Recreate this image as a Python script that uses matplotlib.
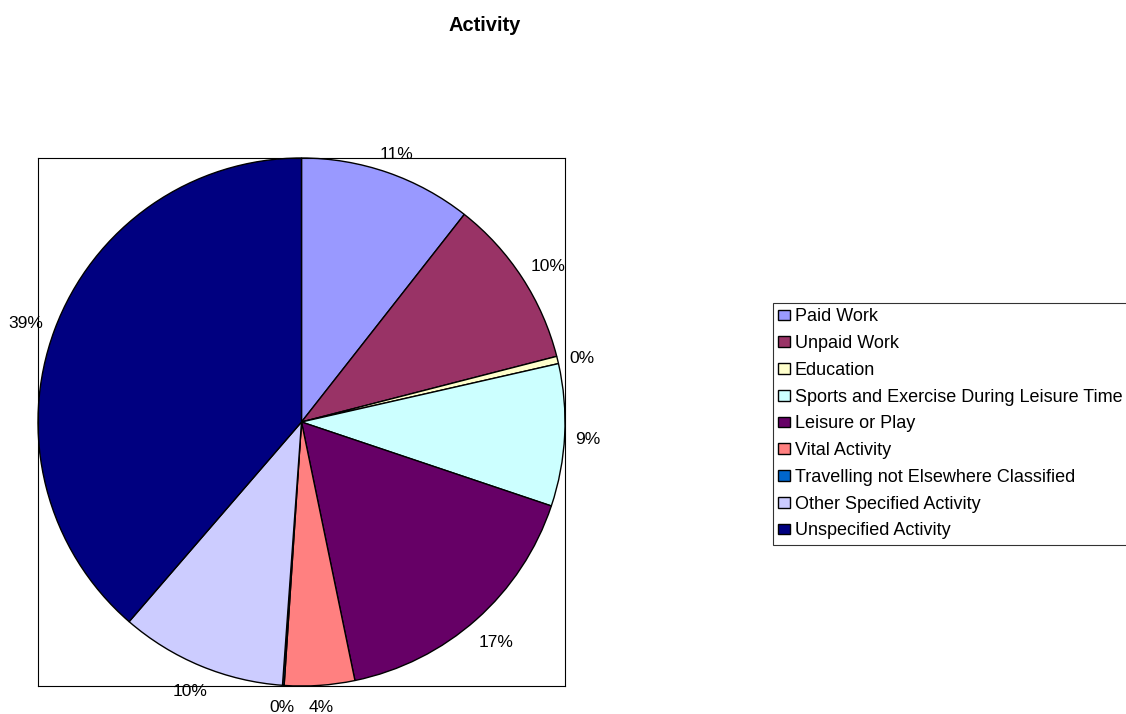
import matplotlib
matplotlib.use("Agg")
import matplotlib.pyplot as plt
import numpy as np

plt.rcParams['font.family'] = ['Liberation Sans', 'DejaVu Sans']

categories = ["Paid Work", "Unpaid Work", "Education",
              "Sports and Exercise During Leisure Time", "Leisure or Play",
              "Vital Activity", "Travelling not Elsewhere Classified",
              "Other Specified Activity", "Unspecified Activity"]
shares = [10.6, 10.4, 0.45, 8.7, 16.6, 4.3, 0.1, 10.2, 38.65]
colors = ["#9999FF", "#993366", "#FFFFCC", "#CCFFFF", "#660066",
          "#FF8080", "#0066CC", "#CCCCFF", "#000080"]

fig = plt.figure(figsize=(11.26, 7.14), dpi=100)
ax = fig.add_axes([38 / 1126, 28 / 714, 527 / 1126, 528 / 714])

wedges, texts, pcts = ax.pie(
    shares, colors=colors, startangle=90, counterclock=False,
    autopct='%.0f%%', pctdistance=1.1, frame=True,
    wedgeprops=dict(edgecolor='black', linewidth=1),
    textprops=dict(fontsize=12.5, color='black'))

ax.set_xlim(-1, 1)
ax.set_ylim(-1, 1)
ax.set_aspect('auto')
ax.set_xticks([])
ax.set_yticks([])
for s in ax.spines.values():
    s.set_linewidth(0.8)
    s.set_color('black')

# push each percentage out so its box sits just outside the rim
fig.canvas.draw()
renderer = fig.canvas.get_renderer()
r_px = ax.transData.transform((1, 0))[0] - ax.transData.transform((0, 0))[0]
for w, t in zip(wedges, pcts):
    ang = np.deg2rad((w.theta1 + w.theta2) / 2)
    c, s = np.cos(ang), np.sin(ang)
    bb = t.get_window_extent(renderer)
    half = (bb.width / 2 * abs(c) + bb.height * 0.75 * abs(s)) / r_px
    d = 1.038 + half
    drop = (3.5 + 3.5 * s) / r_px
    t.set_position((d * c, d * s - drop))
    t.set_ha('center')
    t.set_va('center')
    t.set_clip_on(False)

fig.text(485 / 1126, 1 - 31 / 714, "Activity", ha='center', va='baseline',
         fontsize=14.5, fontweight='bold')

leg = fig.legend(wedges, categories, loc='upper left',
                 bbox_to_anchor=(773 / 1126, 1 - 303 / 714),
                 fontsize=13, frameon=True, fancybox=False,
                 handlelength=0.62, handleheight=0.55, handletextpad=0.28,
                 labelspacing=0.54, borderpad=0.3, borderaxespad=0)
leg.get_frame().set_edgecolor('black')
leg.get_frame().set_linewidth(0.8)

fig.savefig("out.png", dpi=100)
